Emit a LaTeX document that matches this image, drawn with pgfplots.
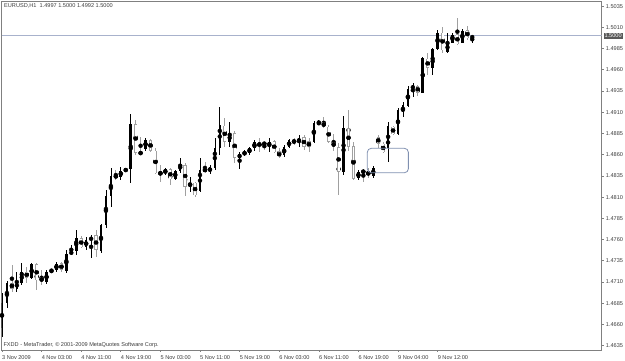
\documentclass[border=0pt]{standalone}
\usepackage{pgfplots}
\pgfplotsset{compat=1.18}
\usepackage{pgfplotstable}
\usepackage{fontspec}
\setmainfont{Liberation Sans}
\definecolor{framegray}{RGB}{128,128,128}
\definecolor{wickgray}{RGB}{160,160,160}
\definecolor{priceline}{RGB}{168,178,204}
\definecolor{boxblue}{RGB}{128,144,176}
\definecolor{labeltext}{RGB}{60,60,60}

% bullish candles (drawn black): index, open, high, low, close
\pgfplotstableread{
i o h l c
0 1.4656 1.4697 1.4645 1.4685
1 1.4685 1.4711 1.4679 1.4709
3 1.4702 1.4722 1.4698 1.4710
4 1.4709 1.4732 1.4706 1.4722
6 1.4715 1.4732 1.4714 1.4731
9 1.4710 1.4724 1.4708 1.4722
10 1.4722 1.4726 1.4721 1.4724
11 1.4724 1.4734 1.4722 1.4731
13 1.4723 1.4748 1.4721 1.4743
14 1.4744 1.4754 1.4742 1.4745
15 1.4747 1.4771 1.4742 1.4762
17 1.4751 1.4763 1.4748 1.4759
18 1.4759 1.4765 1.4738 1.4763
20 1.4747 1.4778 1.4744 1.4777
21 1.4777 1.4818 1.4774 1.4811
22 1.4811 1.4844 1.4798 1.4835
24 1.4834 1.4845 1.4830 1.4841
25 1.4841 1.4844 1.4840 1.4843
26 1.4843 1.4908 1.4827 1.4896
29 1.4867 1.4880 1.4865 1.4877
33 1.4838 1.4844 1.4836 1.4843
35 1.4832 1.4842 1.4830 1.4841
36 1.4841 1.4856 1.4838 1.4849
38 1.4822 1.4834 1.4816 1.4827
40 1.4817 1.4856 1.4816 1.4842
42 1.4840 1.4848 1.4837 1.4845
43 1.4844 1.4880 1.4842 1.4868
44 1.4868 1.4916 1.4860 1.4895
46 1.4875 1.4898 1.4869 1.4885
48 1.4856 1.4863 1.4843 1.4861
49 1.4861 1.4865 1.4858 1.4863
50 1.4862 1.4869 1.4860 1.4868
51 1.4868 1.4877 1.4864 1.4875
54 1.4870 1.4880 1.4863 1.4875
57 1.4860 1.4871 1.4857 1.4869
58 1.4869 1.4878 1.4868 1.4877
60 1.4874 1.4883 1.4869 1.4880
63 1.4875 1.4900 1.4874 1.4897
64 1.4896 1.4901 1.4895 1.4898
69 1.4840 1.4906 1.4836 1.4891
72 1.4832 1.4842 1.4830 1.4840
75 1.4835 1.4847 1.4832 1.4844
78 1.4868 1.4898 1.4851 1.4894
80 1.4884 1.4915 1.4883 1.4913
81 1.4910 1.4922 1.4904 1.4918
82 1.4918 1.4941 1.4916 1.4937
83 1.4937 1.4944 1.4928 1.4942
85 1.4933 1.4975 1.4933 1.4974
87 1.4962 1.4986 1.4954 1.4984
88 1.4984 1.5007 1.4983 1.5004
90 1.4981 1.5003 1.4980 1.4992
91 1.4992 1.5004 1.4992 1.5001
93 1.4992 1.5008 1.4992 1.5006
95 1.4997 1.5000 1.4992 1.5000
}\bull

% bearish candles (drawn hollow): index, open, high, low, close
\pgfplotstableread{
i o h l c
2 1.4709 1.4730 1.4698 1.4702
5 1.4722 1.4728 1.4709 1.4715
7 1.4731 1.4732 1.4701 1.4712
8 1.4716 1.4724 1.4706 1.4710
12 1.4732 1.4734 1.4722 1.4724
16 1.4762 1.4764 1.4750 1.4751
19 1.4765 1.4771 1.4739 1.4748
23 1.4835 1.4842 1.4830 1.4834
27 1.4896 1.4901 1.4860 1.4862
28 1.4863 1.4881 1.4860 1.4861
30 1.4877 1.4878 1.4863 1.4865
31 1.4865 1.4868 1.4837 1.4838
32 1.4838 1.4848 1.4828 1.4838
34 1.4843 1.4844 1.4824 1.4831
37 1.4848 1.4850 1.4811 1.4822
39 1.4827 1.4828 1.4810 1.4812
41 1.4844 1.4851 1.4838 1.4840
45 1.4894 1.4903 1.4869 1.4875
47 1.4885 1.4888 1.4850 1.4856
52 1.4875 1.4880 1.4863 1.4869
53 1.4873 1.4875 1.4865 1.4873
55 1.4876 1.4877 1.4862 1.4863
56 1.4864 1.4868 1.4856 1.4857
59 1.4877 1.4880 1.4871 1.4874
61 1.4881 1.4883 1.4865 1.4869
62 1.4876 1.4880 1.4863 1.4869
65 1.4898 1.4904 1.4891 1.4893
66 1.4893 1.4895 1.4874 1.4875
67 1.4875 1.4885 1.4865 1.4869
68 1.4869 1.4874 1.4812 1.4840
70 1.4891 1.4913 1.4865 1.4869
71 1.4870 1.4875 1.4830 1.4832
73 1.4840 1.4843 1.4828 1.4840
74 1.4840 1.4844 1.4832 1.4836
76 1.4881 1.4883 1.4868 1.4873
77 1.4873 1.4875 1.4862 1.4863
79 1.4893 1.4894 1.4883 1.4884
84 1.4941 1.4942 1.4929 1.4933
86 1.4973 1.4980 1.4954 1.4962
89 1.5004 1.5010 1.4980 1.4983
92 1.5002 1.5021 1.4989 1.4990
94 1.5007 1.5012 1.4995 1.4997
}\bear

\newcommand{\sm}{\fontsize{5.6}{6.5}\selectfont}

\begin{document}
\begin{tikzpicture}
\begin{axis}[
  scale only axis, width=600pt, height=348.3pt,
  xmin=-0.06, xmax=121.15, ymin=1.46299, ymax=1.50402,
  clip mode=individual,
  axis line style={framegray, line width=0.8pt},
  tick style={framegray, line width=0.6pt},
  tick align=outside, major tick length=2pt,
  xtick pos=bottom, ytick pos=right, yticklabel pos=right,
  scaled y ticks=false, scaled x ticks=false,
  xtick={0,8,16,24,32,40,48,56,64,72,80,88},
  xticklabels={3 Nov 2009,4 Nov 03:00,4 Nov 11:00,4 Nov 19:00,5 Nov 03:00,5 Nov 11:00,5 Nov 19:00,6 Nov 03:00,6 Nov 11:00,6 Nov 19:00,9 Nov 04:00,9 Nov 12:00},
  ytick={1.4635,1.4660,1.4685,1.4710,1.4735,1.4760,1.4785,1.4810,1.4835,1.4860,1.4885,1.4910,1.4935,1.4960,1.4985,1.5010,1.5035},
  yticklabels={1.4635,1.4660,1.4685,1.4710,1.4735,1.4760,1.4785,1.4810,1.4835,1.4860,1.4885,1.4910,1.4935,1.4960,1.4985,1.5010,1.5035},
  xticklabel style={anchor=north west, inner sep=0pt, yshift=-3pt, font=\sm, text=labeltext},
  yticklabel style={anchor=west, inner sep=0pt, xshift=2pt, font=\sm, text=labeltext},
]
% current price line
\addplot[priceline, line width=0.8pt, forget plot] coordinates {(-0.06,1.5000) (121.15,1.5000)};

% bearish (hollow) candles: wicks, outline, white fill
\addplot[only marks, mark=none, forget plot,
  error bars/.cd, y dir=both, y explicit, error mark=none,
  error bar style={wickgray, line width=0.7pt}]
  table[x=i, y expr={(\thisrow{h}+\thisrow{l})/2}, y error expr={(\thisrow{h}-\thisrow{l})/2}] {\bear};
\addplot[only marks, mark=none, forget plot,
  error bars/.cd, y dir=both, y explicit, error mark=none,
  error bar style={wickgray, line width=3.3pt}]
  table[x=i, y expr={(\thisrow{o}+\thisrow{c})/2}, y error expr={max(abs(\thisrow{o}-\thisrow{c})/2,0.00006)}] {\bear};
\addplot[only marks, mark=none, forget plot,
  error bars/.cd, y dir=both, y explicit, error mark=none,
  error bar style={white, line width=1.9pt}]
  table[x=i, y expr={(\thisrow{o}+\thisrow{c})/2}, y error expr={max(abs(\thisrow{o}-\thisrow{c})/2-0.00008,0)}] {\bear};

% bullish (black) candles: wicks and bodies
\addplot[only marks, mark=none, forget plot,
  error bars/.cd, y dir=both, y explicit, error mark=none,
  error bar style={black, line width=0.7pt}]
  table[x=i, y expr={(\thisrow{h}+\thisrow{l})/2}, y error expr={(\thisrow{h}-\thisrow{l})/2}] {\bull};
\addplot[only marks, mark=none, forget plot,
  error bars/.cd, y dir=both, y explicit, error mark=none,
  error bar style={black, line width=2.6pt}]
  table[x=i, y expr={(\thisrow{o}+\thisrow{c})/2}, y error expr={max(abs(\thisrow{o}-\thisrow{c})/2,0.00006)}] {\bull};

% highlighted gap
\draw[boxblue, line width=0.8pt, rounded corners=4pt] (axis cs:73.8,1.48675) rectangle (axis cs:82.1,1.48387);

% texts
\node[anchor=west, inner sep=0pt, font=\sm, text=labeltext] at (rel axis cs:0.0038,0.9868) {EURUSD,H1\ \ 1.4997 1.5000 1.4992 1.5000};
\node[anchor=west, inner sep=0pt, font=\sm, text=labeltext] at (rel axis cs:0.0027,0.0129) {FXDD - MetaTrader, © 2001-2009 MetaQuotes Software Corp.};
\node[anchor=west, fill=black!65, text=white, inner sep=1pt, font=\sm] at ([xshift=1.6pt]axis cs:121.15,1.5000) {1.5000};
\end{axis}
\pgfresetboundingbox
\path (current axis.south west) ++(-1.7pt,-11pt) rectangle ++(625pt,361pt);
\end{tikzpicture}
\end{document}
